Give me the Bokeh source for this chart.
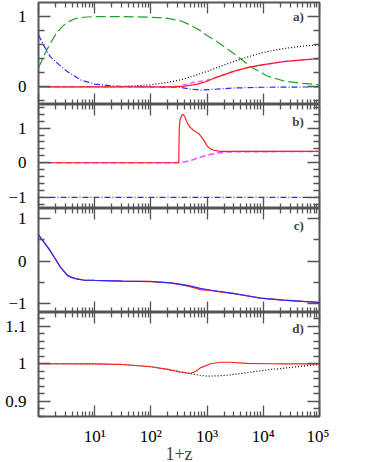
from bokeh.plotting import figure
from bokeh.layouts import column
from bokeh.models import (Range1d, FixedTicker, LogAxis, LinearAxis, Label,
                          CustomJSTickFormatter)
from bokeh.embed import file_html
from bokeh.resources import INLINE

# ---------------- data (log10(1+z) , value) ----------------
# panel a
a_green_lz = [0, 0.1, 0.21, 0.3, 0.4, 0.51, 0.65, 0.8, 1.0, 1.5, 2.0, 2.3, 2.53, 2.7, 2.88, 3.0, 3.2, 3.47, 3.77, 4.07, 4.36, 4.7, 5.0]
a_green = [0.27, 0.45, 0.62, 0.74, 0.84, 0.92, 0.97, 0.99, 1.0, 1.0, 0.99, 0.975, 0.94, 0.88, 0.80, 0.73, 0.63, 0.48, 0.29, 0.155, 0.085, 0.05, 0.03]
a_blue_lz = [0, 0.1, 0.21, 0.36, 0.51, 0.75, 1.0, 1.3, 1.64, 2.0, 2.5, 2.7, 2.9, 3.1, 3.5, 4.0, 5.0]
a_blue = [0.74, 0.58, 0.43, 0.32, 0.22, 0.10, 0.04, 0.015, 0.005, 0.0, -0.005, -0.03, -0.045, -0.035, -0.015, -0.005, 0.0]
a_black_lz = [0, 1.5, 1.99, 2.3, 2.53, 2.75, 3.0, 3.23, 3.47, 3.7, 3.95, 4.15, 4.36, 4.7, 5.0]
a_black = [0.0, 0.005, 0.03, 0.065, 0.10, 0.155, 0.22, 0.29, 0.36, 0.42, 0.48, 0.515, 0.545, 0.58, 0.60]
a_red_lz = [0, 2.4, 2.6, 2.75, 2.88, 3.0, 3.18, 3.47, 3.7, 3.95, 4.36, 4.7, 5.0]
a_red = [0.0, 0.0, 0.01, 0.03, 0.05, 0.08, 0.14, 0.22, 0.27, 0.31, 0.36, 0.385, 0.40]
a_mag_lz = [0, 2.3, 2.5, 2.65, 2.76, 2.9, 3.0, 3.18, 3.47, 3.7, 3.95, 4.36, 4.7, 5.0]
a_mag = [0.0, 0.0, 0.01, 0.04, 0.065, 0.08, 0.095, 0.14, 0.22, 0.27, 0.31, 0.36, 0.385, 0.40]

# panel b
b_red_lz = [0, 2.495, 2.505, 2.52, 2.55, 2.575, 2.61, 2.646, 2.7, 2.763, 2.82, 2.852, 2.913, 2.96, 3.002, 3.06, 3.12, 3.24, 3.5, 5.0]
b_red = [0.0, 0.0, 1.0, 1.25, 1.36, 1.40, 1.30, 1.15, 1.02, 0.93, 0.87, 0.84, 0.72, 0.60, 0.48, 0.40, 0.36, 0.33, 0.325, 0.325]
b_mag_lz = [0, 2.47, 2.6, 2.76, 2.9, 3.06, 3.2, 3.36, 3.6, 5.0]
b_mag = [0.0, 0.0, 0.02, 0.095, 0.17, 0.24, 0.285, 0.31, 0.32, 0.325]
b_blue_lz = [0, 5.0]
b_blue = [-1.0, -1.0]

# panel c
c_lz = [0, 0.1, 0.21, 0.3, 0.39, 0.51, 0.6, 0.68, 0.8, 1.0, 1.5, 1.99, 2.35, 2.6, 2.75, 2.88, 3.05, 3.2, 3.47, 3.7, 3.95, 4.36, 4.7, 5.0]
c_blue = [0.62, 0.44, 0.24, 0.05, -0.14, -0.33, -0.39, -0.42, -0.445, -0.455, -0.47, -0.48, -0.51, -0.56, -0.60, -0.64, -0.68, -0.71, -0.76, -0.815, -0.87, -0.92, -0.95, -0.97]
c_red = [0.62, 0.44, 0.24, 0.05, -0.14, -0.33, -0.39, -0.42, -0.445, -0.455, -0.47, -0.48, -0.51, -0.57, -0.62, -0.67, -0.69, -0.72, -0.765, -0.815, -0.87, -0.92, -0.95, -0.975]

# panel d
d_lz = [0, 1.0, 1.5, 2.0, 2.3, 2.53, 2.7, 2.8, 2.88, 3.0, 3.06, 3.24, 3.4, 3.71, 4.13, 4.31, 4.7, 5.0]
d_red = [1.0, 0.9995, 0.998, 0.992, 0.985, 0.978, 0.974, 0.98, 0.989, 0.996, 1.0, 1.004, 1.004, 1.001, 1.0, 0.9995, 0.9995, 0.999]
d_black = [1.0, 0.9995, 0.998, 0.992, 0.985, 0.978, 0.974, 0.971, 0.969, 0.967, 0.967, 0.968, 0.970, 0.976, 0.985, 0.987, 0.994, 0.998]

x_major = [1, 10, 100, 1000, 10000, 100000]
x_minor = [m * d for d in [1, 10, 100, 1000, 10000] for m in range(2, 10)]
x_labels = ["", "10¹", "10²", "10³", "10⁴", "10⁵"]

panel_labels = ["a)", "b)", "c)", "d)"]

GREEN = "#22a02a"
RED = "#ff2020"
BLUE = "#2a2aff"
MAG = "#ff4cff"
BLACK = "#000000"
TICK = "#555555"

EMPTY = CustomJSTickFormatter(code="return ''")
YFMT = CustomJSTickFormatter(code="""
const v = Math.round(tick*100)/100;
return String(v).replace('-', '\u2212');
""")
XFMT = CustomJSTickFormatter(args=dict(labs=x_labels), code="""
const e = Math.round(Math.log10(tick));
return labs[e];
""")


def X(lz):
    return [10 ** v for v in lz]


def style_axis(ax, tin, tmin):
    ax.axis_line_color = None
    ax.major_tick_in = tin
    ax.major_tick_out = 0
    ax.minor_tick_in = tmin
    ax.minor_tick_out = 0
    ax.major_tick_line_color = TICK
    ax.minor_tick_line_color = TICK
    ax.major_tick_line_width = 1.3
    ax.minor_tick_line_width = 1.3


def hide_labels(ax):
    ax.formatter = EMPTY
    ax.major_label_text_font_size = "0px"
    ax.major_label_standoff = 0


def panel(yr, ymaj, ymin, fh=104, first=False, last=False):
    p = figure(x_axis_type="log", x_range=Range1d(1, 1e5), y_range=Range1d(*yr),
               frame_width=281, frame_height=fh, output_backend="svg",
               toolbar_location=None, min_border_left=38, min_border_right=10,
               min_border_top=2 if first else 0, min_border_bottom=44 if last else 0)
    p.grid.visible = False
    p.outline_line_color = TICK
    p.outline_line_width = 2
    xt = FixedTicker(ticks=x_major, minor_ticks=x_minor)
    yt = FixedTicker(ticks=ymaj, minor_ticks=ymin)
    bx = p.xaxis[0]
    bx.ticker = xt
    style_axis(bx, 11, 5)
    if last:
        bx.formatter = XFMT
        bx.major_label_text_font = "Liberation Serif"
        bx.major_label_text_font_size = "17px"
        bx.major_label_text_color = "black"
        bx.major_label_standoff = 10
        bx.axis_label = "1+z"
        bx.axis_label_text_font = "Liberation Serif"
        bx.axis_label_text_font_size = "18px"
        bx.axis_label_text_font_style = "normal"
        bx.axis_label_standoff = -5
    else:
        hide_labels(bx)
    tx = LogAxis(ticker=xt)
    style_axis(tx, 11, 5)
    hide_labels(tx)
    p.add_layout(tx, "above")
    ly = p.yaxis[0]
    ly.ticker = yt
    style_axis(ly, 12, 6)
    ly.formatter = YFMT
    ly.major_label_text_font = "Liberation Serif"
    ly.major_label_text_font_size = "17px"
    ly.major_label_text_color = "black"
    ly.major_label_standoff = 12
    ry = LinearAxis(ticker=yt)
    style_axis(ry, 12, 6)
    hide_labels(ry)
    p.add_layout(ry, "right")
    return p


def plabel(p, text, y):
    p.add_layout(Label(x=10 ** 4.72, y=y, text=text, text_align="right",
                       text_baseline="middle", text_font="Liberation Serif",
                       text_font_style="bold", text_font_size="13px"))


# panel a
pa = panel((-0.25, 1.2), [0, 1], [-0.2, 0.2, 0.4, 0.6, 0.8], fh=102, first=True)
pa.line(X(a_green_lz), a_green, line_color=GREEN, line_width=1.2, line_dash="10 4")
pa.line(X(a_black_lz), a_black, line_color=BLACK, line_width=1.2, line_dash="1 2")
pa.line(X(a_blue_lz), a_blue, line_color=BLUE, line_width=1.2, line_dash="6 2 1 2")
pa.line(X(a_mag_lz), a_mag, line_color=MAG, line_width=1.4, line_dash="5 3")
pa.line(X(a_red_lz), a_red, line_color=RED, line_width=1.2)
plabel(pa, panel_labels[0], 1.0)

# panel b
pb = panel((-1.32, 1.68), [-1, 0, 1],
           [-1.2, -0.8, -0.6, -0.4, -0.2, 0.2, 0.4, 0.6, 0.8, 1.2, 1.4, 1.6])
pb.line(X(b_blue_lz), b_blue, line_color=BLUE, line_width=1.2, line_dash="6 2 1 2")
pb.line(X(b_mag_lz), b_mag, line_color=MAG, line_width=1.6, line_dash="6 3")
pb.line(X(b_red_lz), b_red, line_color=RED, line_width=1.2)
plabel(pb, panel_labels[1], 1.2)

# panel c
pc = panel((-1.21, 1.24), [-1, 0, 1], [-0.5, 0.5])
pc.line(X(c_lz), c_red, line_color=RED, line_width=1.3)
pc.line(X(c_lz), c_blue, line_color=BLUE, line_width=1.2)
plabel(pc, panel_labels[2], 0.83)

# panel d
pd_ = panel((0.859, 1.137), [0.9, 1.0, 1.1],
            [0.86, 0.88, 0.92, 0.94, 0.96, 0.98, 1.02, 1.04, 1.06, 1.08, 1.12], last=True)
pd_.line(X(d_lz), d_black, line_color=BLACK, line_width=1.2, line_dash="1 2")
pd_.line(X(d_lz), d_red, line_color=RED, line_width=1.2)
plabel(pd_, panel_labels[3], 1.095)

layout = column(pa, pb, pc, pd_, spacing=0)
open("out.html", "w").write(file_html(layout, INLINE))
